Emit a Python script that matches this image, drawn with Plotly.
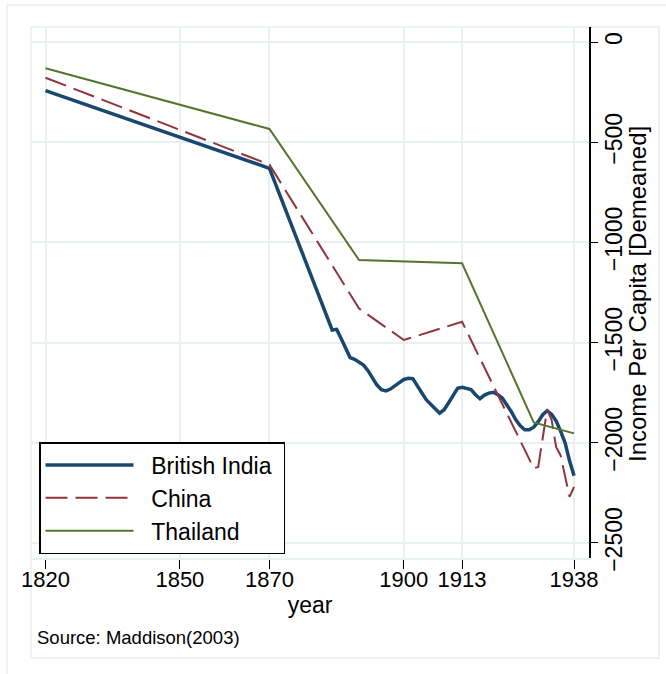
import plotly.graph_objects as go

# ---------------- data ----------------
india_years = [1820, 1870, 1884, 1885, 1886, 1887, 1888, 1889, 1890, 1891, 1892,
               1893, 1894, 1895, 1896, 1897, 1898, 1899, 1900, 1901, 1902, 1903,
               1904, 1905, 1906, 1907, 1908, 1909, 1910, 1911, 1912, 1913, 1914,
               1915, 1916, 1917, 1918, 1919, 1920, 1921, 1922, 1923, 1924, 1925,
               1926, 1927, 1928, 1929, 1930, 1931, 1932, 1933, 1934, 1935, 1936,
               1937, 1938]
india_vals = [-243, -630, -1437, -1434, -1480, -1525, -1575, -1583, -1597, -1612, -1640,
              -1680, -1712, -1735, -1741, -1732, -1718, -1700, -1684, -1678, -1680, -1712,
              -1750, -1785, -1810, -1830, -1852, -1835, -1800, -1760, -1728, -1723, -1728,
              -1735, -1760, -1780, -1762, -1752, -1748, -1760, -1778, -1810, -1845, -1885,
              -1915, -1935, -1935, -1922, -1895, -1860, -1840, -1858, -1891, -1942, -2000,
              -2090, -2165]

china_years = [1820, 1870, 1890, 1900, 1913, 1929, 1930, 1931, 1932, 1933, 1934,
               1935, 1936, 1937, 1938]
china_vals = [-178, -612, -1330, -1487, -1396, -2127, -2121, -1977, -1833, -1886, -2021,
              -2063, -2161, -2270, -2220]

thai_years = [1820, 1870, 1890, 1913, 1929, 1938]
thai_vals = [-131, -434, -1088, -1104, -1898, -1953]

series_names = ["British India", "China", "Thailand"]

x_ticks = [1820, 1850, 1870, 1900, 1913, 1938]
y_ticks = [0, -500, -1000, -1500, -2000, -2500]
y_ticktext = ["0", "\u2212500", "\u22121000", "\u22121500", "\u22122000", "\u22122500"]

x_title = "year"
y_title = "Income Per Capita [Demeaned]"
source_note = "Source: Maddison(2003)"

# ---------------- style ----------------
NAVY = "#1a476f"
MAROON = "#90353b"
GREEN = "#55752f"
GRID = "#e8f0f2"
FONT = "Liberation Sans, Arial, Helvetica, sans-serif"
NB = "\u00a0"

W, H = 666, 674
L, R, T, B = 31, 77, 27, 116
pw, ph = W - L - R, H - T - B


def px_x(x):
    return (x - L) / pw


def px_y(y):
    return (H - B - y) / ph


def legend_label(s):
    return NB * 2 + s + NB


fig = go.Figure()
fig.add_trace(go.Scatter(x=india_years, y=india_vals, mode="lines",
                         name=legend_label(series_names[0]),
                         line=dict(color=NAVY, width=3.5)))
fig.add_trace(go.Scatter(x=china_years, y=china_vals, mode="lines",
                         name=legend_label(series_names[1]),
                         line=dict(color=MAROON, width=2, dash="22px,8px")))
fig.add_trace(go.Scatter(x=thai_years, y=thai_vals, mode="lines",
                         name=legend_label(series_names[2]),
                         line=dict(color=GREEN, width=2)))

shapes = [
    # outer graph frame
    dict(type="rect", xref="paper", yref="paper", x0=px_x(7), x1=px_x(700),
         y0=px_y(700), y1=px_y(5), line=dict(color=GRID, width=1.5), layer="below"),
    # inner graph frame
    dict(type="rect", xref="paper", yref="paper", x0=px_x(31), x1=px_x(659),
         y0=px_y(658), y1=px_y(27), line=dict(color=GRID, width=1.5), layer="below"),
]

fig.update_layout(
    width=W, height=H,
    margin=dict(l=L, r=R, t=T, b=B, pad=0, autoexpand=False),
    paper_bgcolor="white", plot_bgcolor="white",
    font=dict(family=FONT, size=22, color="black"),
    showlegend=True,
    legend=dict(x=px_x(39), y=px_y(442), xanchor="left", yanchor="top",
                bgcolor="white", bordercolor="black", borderwidth=1.5,
                font=dict(family=FONT, size=23, color="black"),
                itemwidth=88, tracegroupgap=0),
    shapes=shapes,
    xaxis=dict(range=[1816.76, 1941.34], tickmode="array", tickvals=x_ticks,
               automargin=False,
               showgrid=True, gridcolor=GRID, gridwidth=2, zeroline=False,
               showline=True, linecolor=GRID, linewidth=2,
               ticks="outside", ticklen=9, tickwidth=1.3, tickcolor="black",
               ticklabelstandoff=-8,
               tickfont=dict(family=FONT, size=22),
               title=dict(text=x_title, font=dict(family=FONT, size=23), standoff=3)),
    yaxis=dict(range=[-2575, 75], side="right", tickmode="array", tickvals=y_ticks,
               ticktext=y_ticktext, tickangle=-90, automargin=False,
               showgrid=True, gridcolor=GRID, gridwidth=2, zeroline=False,
               showline=True, linecolor="black", linewidth=1.5,
               ticks="outside", ticklen=7, tickwidth=1.3, tickcolor="black",
               ticklabelstandoff=-3,
               tickfont=dict(family=FONT, size=23)),
    annotations=[
        dict(text=y_title, xref="paper", yref="paper", x=px_x(638), y=px_y(294),
             xanchor="center", yanchor="middle", textangle=-90, showarrow=False,
             font=dict(family=FONT, size=24, color="black")),
        dict(text=source_note, xref="paper", yref="paper",
             x=px_x(35), y=px_y(637), xanchor="left", yanchor="middle",
             showarrow=False, font=dict(family=FONT, size=18.5, color="black")),
    ],
)

fig.write_html("out.html", config={"displayModeBar": False},
               post_script="document.body.style.margin='0px';")
